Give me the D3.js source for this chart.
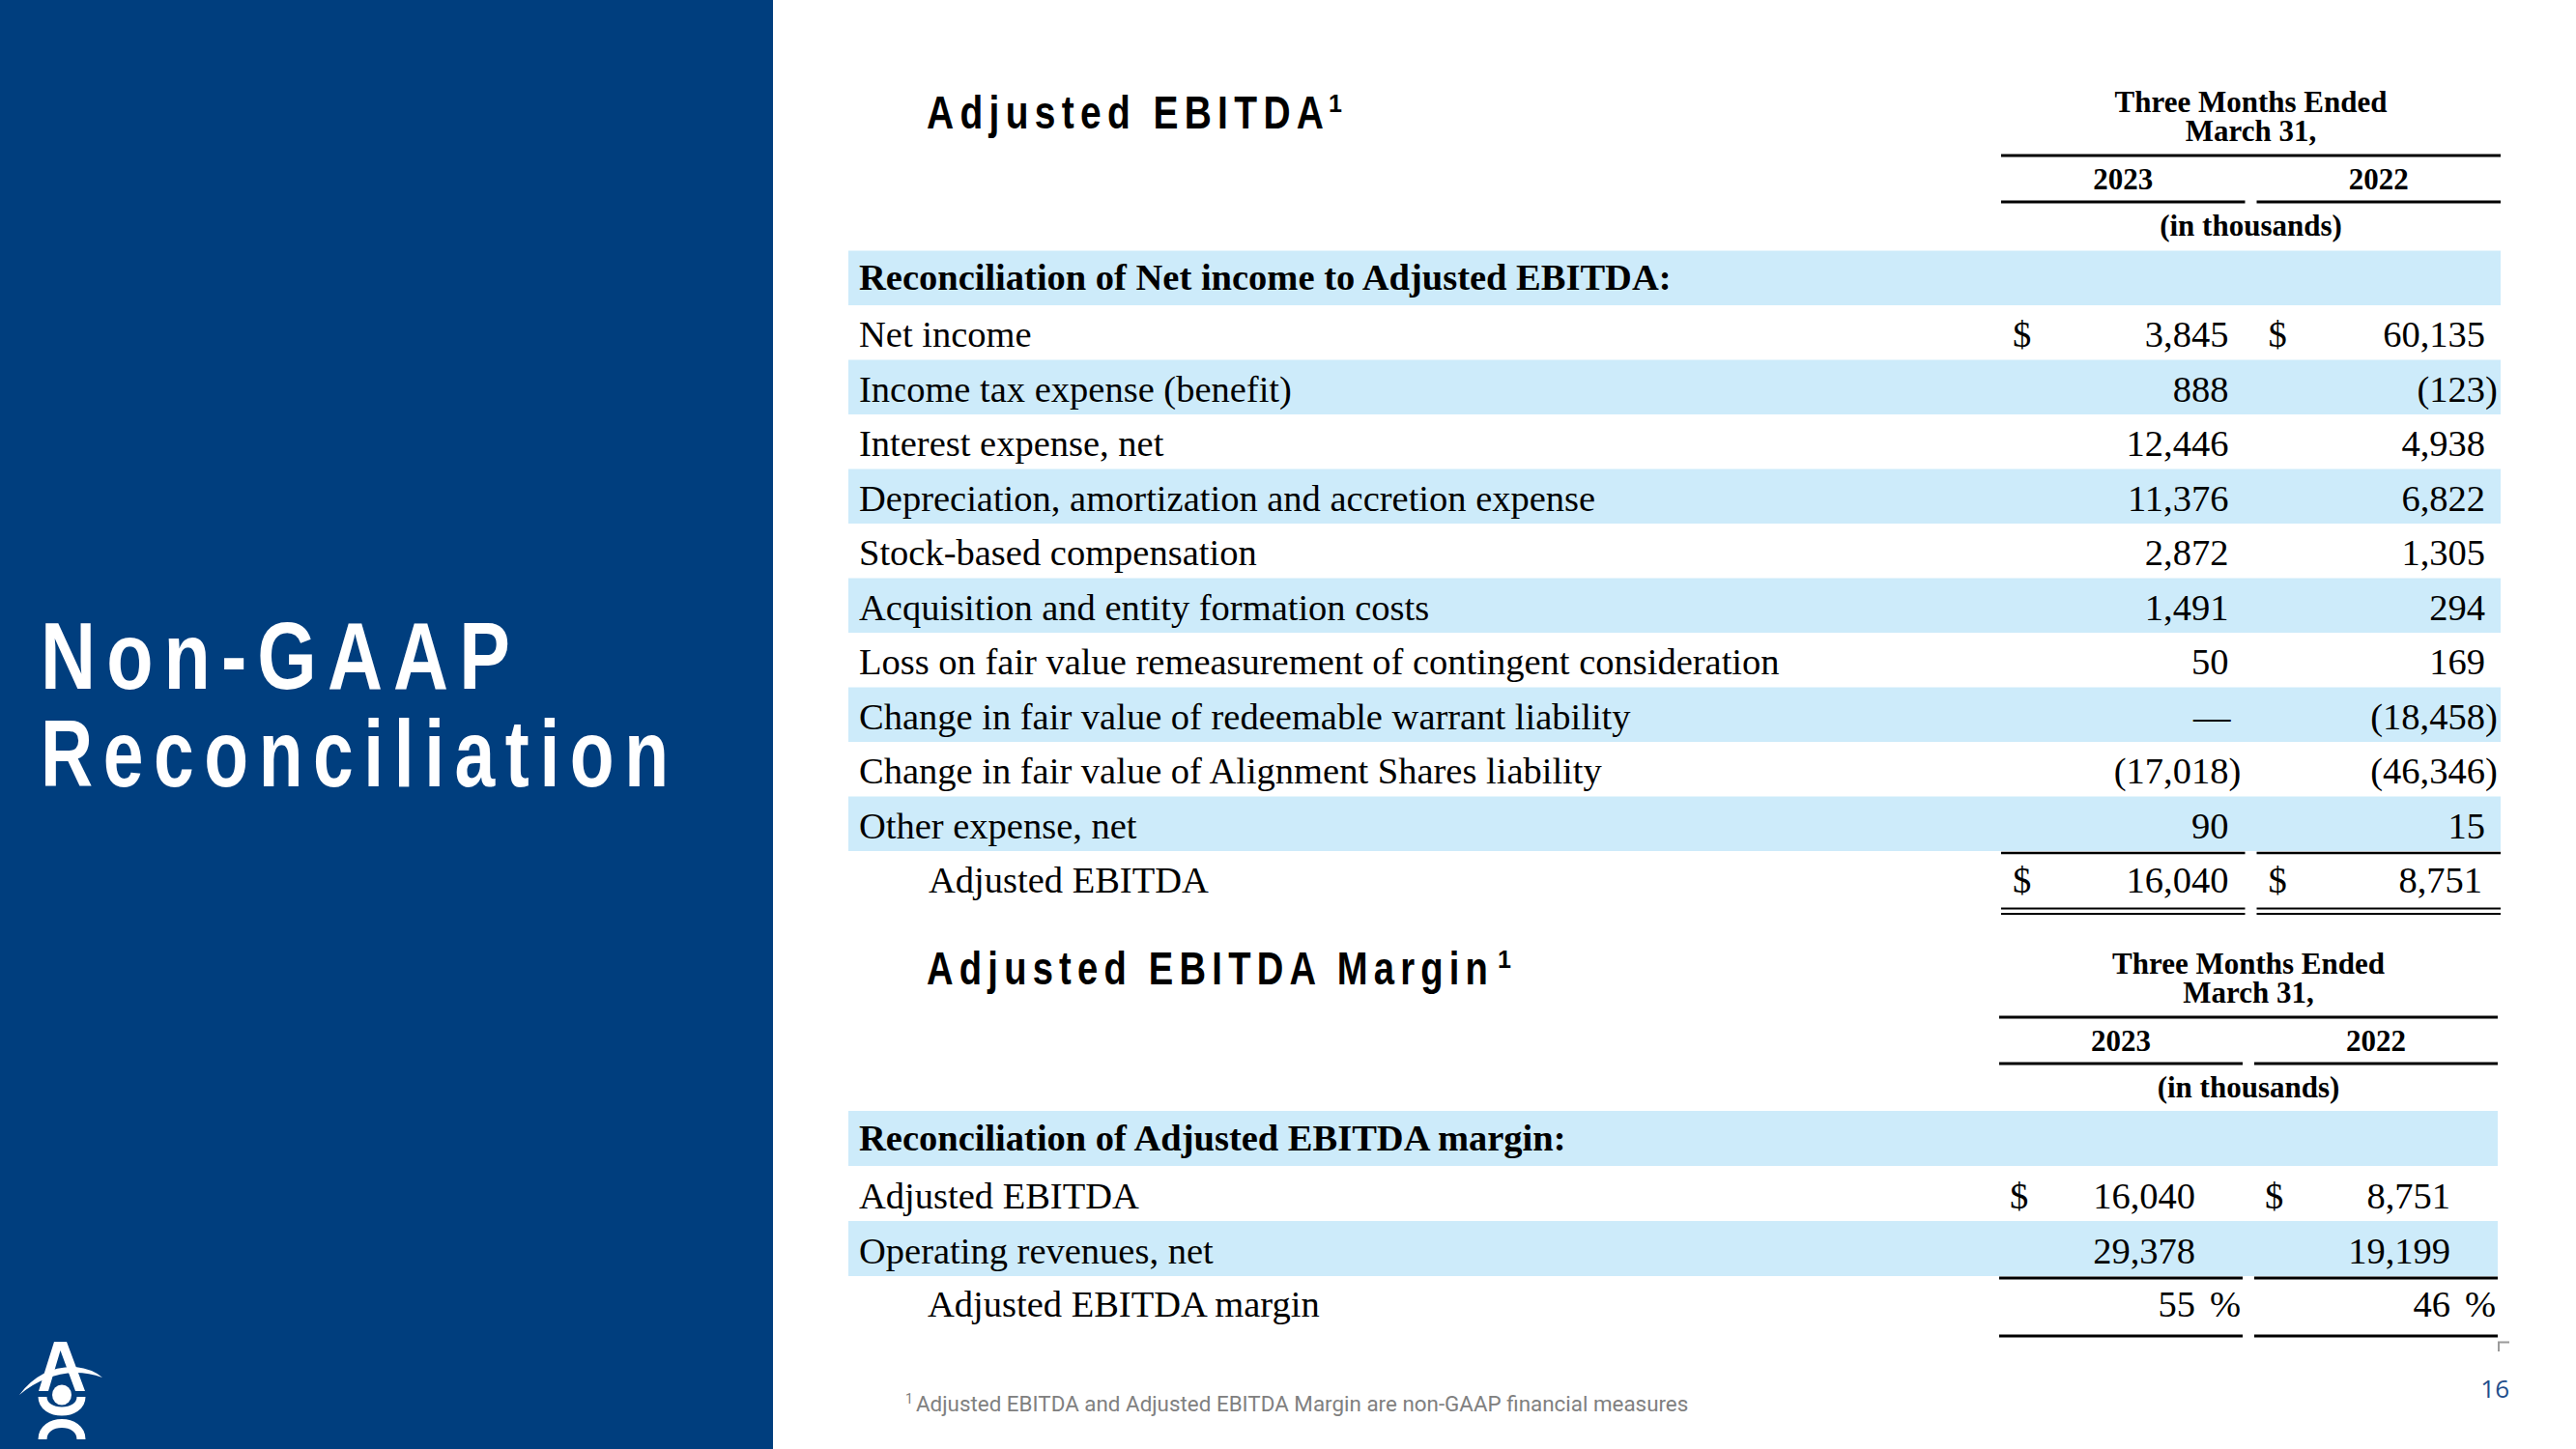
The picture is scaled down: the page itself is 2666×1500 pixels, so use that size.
<!DOCTYPE html>
<html><head><meta charset="utf-8">
<script src="https://cdn.jsdelivr.net/npm/d3@7"></script>
<style>html,body{margin:0;padding:0;background:#fff;overflow:hidden}svg{display:block}</style>
</head><body>
<script>
// ---------- DATA ----------
const pageTitle = ["Non-GAAP", "Reconciliation"];
const years = ["2023", "2022"];
const headerLines = ["Three Months Ended", "March 31,"];
const unitsLabel = "(in thousands)";

const section1Title = "Adjusted EBITDA";
const section1Header = "Reconciliation of Net income to Adjusted EBITDA:";
const labels = [
  "Net income",
  "Income tax expense (benefit)",
  "Interest expense, net",
  "Depreciation, amortization and accretion expense",
  "Stock-based compensation",
  "Acquisition and entity formation costs",
  "Loss on fair value remeasurement of contingent consideration",
  "Change in fair value of redeemable warrant liability",
  "Change in fair value of Alignment Shares liability",
  "Other expense, net"
];
const values2023 = [3845, 888, 12446, 11376, 2872, 1491, 50, 0, -17018, 90];
const values2022 = [60135, -123, 4938, 6822, 1305, 294, 169, -18458, -46346, 15];
const totalLabel = "Adjusted EBITDA";
const totalValues = [16040, 8751];

const section2Title = "Adjusted EBITDA Margin";
const section2Header = "Reconciliation of Adjusted EBITDA margin:";
const marginLabels = ["Adjusted EBITDA", "Operating revenues, net"];
const margin2023 = [16040, 29378];
const margin2022 = [8751, 19199];
const marginLabel = "Adjusted EBITDA margin";
const marginPct = [55, 46];

const footnote = "Adjusted EBITDA and Adjusted EBITDA Margin are non-GAAP financial measures";
const pageNumber = "16";

// ---------- STYLE ----------
const W = 2666, H = 1500;
const NAVY = "#003E7E", BAND = "#CDEBFA";
const SERIF = "'Liberation Serif','Times New Roman',serif";
const SANS = "'Liberation Sans',Arial,sans-serif";
const FS = 38.5;

const svg = d3.select("body").append("svg").attr("width", W).attr("height", H);
svg.append("rect").attr("width", W).attr("height", H).attr("fill", "#fff");
svg.append("rect").attr("x", 0).attr("y", 0).attr("width", 800).attr("height", H).attr("fill", NAVY);

function fit(sel, target, ls) {
  sel.each(function () {
    const w = this.getComputedTextLength() - (ls || 0);
    const sx = target / w;
    const x = +this.getAttribute("x"), y = +this.getAttribute("y");
    this.setAttribute("transform", `translate(${x},${y}) scale(${sx},1) translate(${-x},${-y})`);
  });
}

// ---------- LEFT PANEL TITLE ----------
const titleY = d3.scalePoint().domain(pageTitle).range([713, 814]);
const titleW = {"Non-GAAP": 486, "Reconciliation": 650};
pageTitle.forEach(t => {
  svg.append("text").attr("x", 42).attr("y", titleY(t)).text(t)
    .attr("font-family", SANS).attr("font-weight", "bold").attr("font-size", 99)
    .attr("letter-spacing", 14).attr("fill", "#fff")
    .call(fit, titleW[t], 14);
});

// ---------- LOGO ----------
const logo = svg.append("g").attr("fill", "#fff");
logo.append("path").attr("d", "M56,1389 L69,1389 L88,1440 L78,1440 L62.5,1398 L50,1440 L40,1440 Z");
logo.append("path").attr("d", "M20,1444 Q42,1414 78,1415 Q96,1417 106,1426 Q92,1421 78,1421 Q46,1422 20,1444 Z");
logo.append("ellipse").attr("cx", 64).attr("cy", 1444).attr("rx", 10).attr("ry", 10.5);
logo.append("path").attr("d", "M44,1446 C44,1466 84,1466 84,1446").attr("fill", "none").attr("stroke", "#fff").attr("stroke-width", 9);
logo.append("path").attr("d", "M44,1490 C44,1468 84,1468 84,1490").attr("fill", "none").attr("stroke", "#fff").attr("stroke-width", 9);

// ---------- TABLE BUILDER ----------
function sectionTitle(text, x, y, width, supX, supY) {
  svg.append("text").attr("x", x).attr("y", y).text(text)
    .attr("font-family", SANS).attr("font-weight", "bold").attr("font-size", 49)
    .attr("letter-spacing", 8).attr("fill", "#000").call(fit, width, 8);
  svg.append("text").attr("x", supX).attr("y", supY).text("1")
    .attr("font-family", SANS).attr("font-weight", "bold").attr("font-size", 25).attr("fill", "#000");
}

function colHeader(col, top) {
  const [x0, x1] = col.range();
  const cx = (x0 + x1) / 2;
  const g = svg.append("g").attr("font-family", SERIF).attr("font-weight", "bold").attr("font-size", 31).attr("fill", "#000").attr("text-anchor", "middle");
  headerLines.forEach((t, i) => g.append("text").attr("x", cx).attr("y", top + i * 30).text(t));
  svg.append("line").attr("x1", x0).attr("x2", x1).attr("y1", top + 45).attr("y2", top + 45).attr("stroke", "#000").attr("stroke-width", 3);
  years.forEach(y => {
    g.append("text").attr("x", col(y) + col.bandwidth() / 2).attr("y", top + 80).text(y);
    svg.append("line").attr("x1", col(y)).attr("x2", col(y) + col.bandwidth()).attr("y1", top + 93).attr("y2", top + 93).attr("stroke", "#000").attr("stroke-width", 3);
  });
  g.append("text").attr("x", cx).attr("y", top + 128).text(unitsLabel);
}

const fmt = d3.format(",");
function numText(g, v, xr, y) {
  if (v === 0) {
    g.append("text").attr("x", xr + 2).attr("y", y).attr("text-anchor", "end").text("\u2014");
  } else if (v < 0) {
    g.append("text").attr("x", xr).attr("y", y).attr("text-anchor", "end").text("(" + fmt(-v));
    g.append("text").attr("x", xr).attr("y", y).attr("text-anchor", "start").text(")");
  } else {
    g.append("text").attr("x", xr).attr("y", y).attr("text-anchor", "end").text(fmt(v));
  }
}

// ---------- TABLE 1 ----------
sectionTitle(section1Title, 959, 133, 411, 1375, 116);
const col1 = d3.scaleBand().domain(years).range([2071, 2588]).paddingInner(0.0454);
colHeader(col1, 116);

const rows1 = ["hdr", ...labels, "total"];
const row1 = d3.scaleBand().domain(rows1).range([259.5, 259.5 + rows1.length * 56.5]);
const LEFT = 878, RIGHT = 2588;

const t1 = svg.append("g");
rows1.forEach((r, i) => {
  if (i % 2 === 0 && r !== "total") {
    t1.append("rect").attr("x", LEFT).attr("y", row1(r)).attr("width", RIGHT - LEFT).attr("height", row1.bandwidth()).attr("fill", BAND);
  }
});
const tx1 = svg.append("g").attr("font-family", SERIF).attr("font-size", FS).attr("fill", "#000");
tx1.append("text").attr("x", 889).attr("y", row1("hdr") + 40).attr("font-weight", "bold").text(section1Header);
labels.forEach((l, i) => {
  const y = row1(l) + 43;
  tx1.append("text").attr("x", 889).attr("y", y).text(l);
  numText(tx1, values2023[i], col1("2023") + col1.bandwidth() - 17, y);
  numText(tx1, values2022[i], col1("2022") + col1.bandwidth() - 16, y);
  if (i === 0) {
    years.forEach(yr => tx1.append("text").attr("x", col1(yr) + 12).attr("y", y).text("$"));
  }
});
{
  const y = row1("total") + 43;
  tx1.append("text").attr("x", 961).attr("y", y).text(totalLabel);
  years.forEach((yr, j) => {
    tx1.append("text").attr("x", col1(yr) + 12).attr("y", y).text("$");
    numText(tx1, totalValues[j], col1(yr) + col1.bandwidth() - (j === 0 ? 17 : 19), y);
    const x0 = col1(yr), x1 = col1(yr) + col1.bandwidth();
    const ly = row1("total");
    svg.append("line").attr("x1", x0).attr("x2", x1).attr("y1", ly + 2).attr("y2", ly + 2).attr("stroke", "#000").attr("stroke-width", 2.5);
    svg.append("line").attr("x1", x0).attr("x2", x1).attr("y1", ly + row1.bandwidth() + 3).attr("y2", ly + row1.bandwidth() + 3).attr("stroke", "#000").attr("stroke-width", 2);
    svg.append("line").attr("x1", x0).attr("x2", x1).attr("y1", ly + row1.bandwidth() + 8.5).attr("y2", ly + row1.bandwidth() + 8.5).attr("stroke", "#000").attr("stroke-width", 2);
  });
}

// ---------- TABLE 2 ----------
sectionTitle(section2Title, 959, 1019, 581, 1550, 1002);
const col2 = d3.scaleBand().domain(years).range([2069, 2585]).paddingInner(0.0454);
colHeader(col2, 1008);

const rows2 = ["hdr", ...marginLabels, "margin"];
const row2 = d3.scaleBand().domain(rows2).range([1150, 1150 + rows2.length * 57]);
rows2.forEach((r, i) => {
  if (i % 2 === 0 && r !== "margin") {
    svg.append("rect").attr("x", LEFT).attr("y", row2(r)).attr("width", 2585 - LEFT).attr("height", row2.bandwidth()).attr("fill", BAND);
  }
});
const tx2 = svg.append("g").attr("font-family", SERIF).attr("font-size", FS).attr("fill", "#000");
tx2.append("text").attr("x", 889).attr("y", row2("hdr") + 41).attr("font-weight", "bold").text(section2Header);
marginLabels.forEach((l, i) => {
  const y = row2(l) + 44;
  tx2.append("text").attr("x", 889).attr("y", y).text(l);
  numText(tx2, margin2023[i], col2("2023") + col2.bandwidth() - 49, y);
  numText(tx2, margin2022[i], col2("2022") + col2.bandwidth() - 49, y);
  if (i === 0) years.forEach(yr => tx2.append("text").attr("x", col2(yr) + 11).attr("y", y).text("$"));
});
{
  const y = row2("margin") + 42;
  tx2.append("text").attr("x", 960).attr("y", y).text(marginLabel);
  years.forEach((yr, j) => {
    const x0 = col2(yr), x1 = col2(yr) + col2.bandwidth();
    tx2.append("text").attr("x", x1 - 49).attr("y", y).attr("text-anchor", "end").text(marginPct[j]);
    tx2.append("text").attr("x", x1 - 2).attr("y", y).attr("text-anchor", "end").text("%");
    svg.append("line").attr("x1", x0).attr("x2", x1).attr("y1", row2("margin") + 2).attr("y2", row2("margin") + 2).attr("stroke", "#000").attr("stroke-width", 3);
    svg.append("line").attr("x1", x0).attr("x2", x1).attr("y1", row2("margin") + row2.bandwidth() + 5).attr("y2", row2("margin") + row2.bandwidth() + 5).attr("stroke", "#000").attr("stroke-width", 3);
  });
}

// corner mark
svg.append("path").attr("d", "M2586,1399 V1389.5 H2597").attr("fill", "none").attr("stroke", "#9a9a9a").attr("stroke-width", 2);

// ---------- FOOTNOTE & PAGE NUMBER ----------
svg.append("text").attr("x", 937).attr("y", 1453).text("1")
  .attr("font-family", "Roboto, sans-serif").attr("font-size", 14).attr("fill", "#808080");
svg.append("text").attr("x", 948).attr("y", 1461).text(footnote)
  .attr("font-family", "Roboto, sans-serif").attr("font-size", 22).attr("fill", "#808080")
  .call(fit, 800, 0);
svg.append("text").attr("x", 2597).attr("y", 1447).attr("text-anchor", "end").text(pageNumber)
  .attr("font-family", "'Open Sans', sans-serif").attr("font-size", 26).attr("fill", "#1F4E8C");
</script>
</body></html>
